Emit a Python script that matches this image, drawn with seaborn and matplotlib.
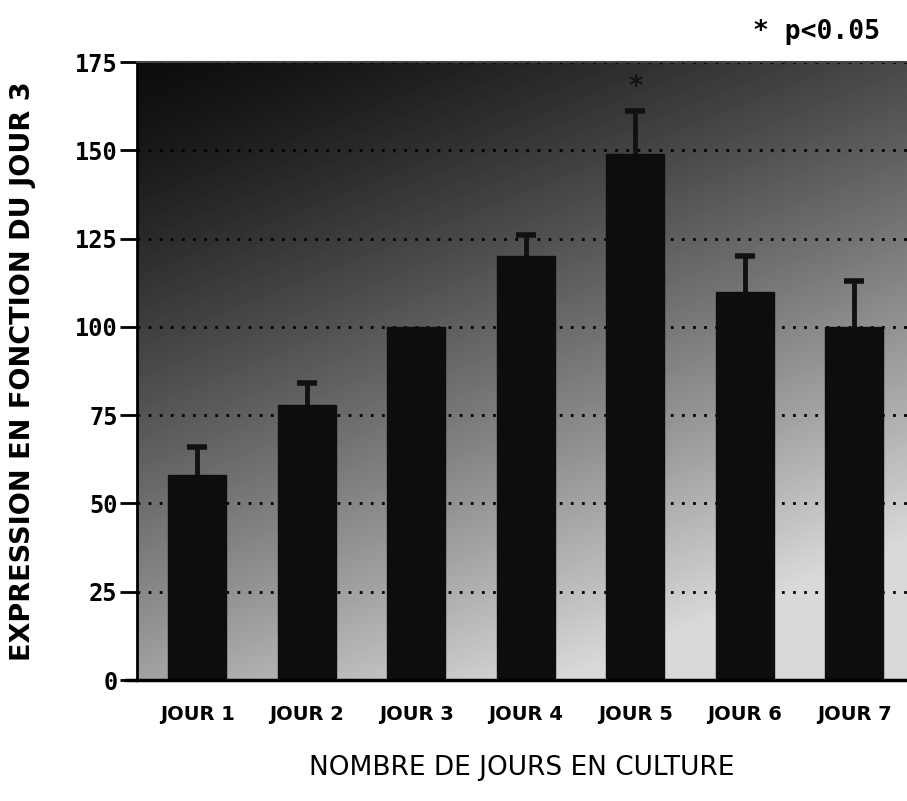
import numpy as np
import pandas as pd
import matplotlib
matplotlib.use("Agg")
import matplotlib.pyplot as plt
import seaborn as sns

categories = ["JOUR 1", "JOUR 2", "JOUR 3", "JOUR 4", "JOUR 5", "JOUR 6", "JOUR 7"]
values = [58, 78, 100, 120, 149, 110, 100]
errors = [8, 6, 0, 6, 12, 10, 13]
yticks = [0, 25, 50, 75, 100, 125, 150, 175]

sns.set_style("white")
plt.rcParams['font.family'] = ['DejaVu Sans']
plt.rcParams['text.color'] = 'black'

fig = plt.figure(figsize=(9.07, 8.01), dpi=100)
ax = fig.add_axes([137/907, 1-680/801, 1-137/907, (680-62)/801])

# gradient background
nx, ny = 200, 200
gx, gy = np.meshgrid(np.linspace(0, 1, nx), np.linspace(1, 0, ny))
t = np.clip((gx*0.45 + (1-gy)*0.9)/1.15, 0, 1)
g = 0.05 + 0.8*t**1.3
ax.imshow(g, cmap='gray', vmin=0, vmax=1, extent=[0, 1, 0, 1], transform=ax.transAxes,
          aspect='auto', zorder=0, interpolation='bilinear')

df = pd.DataFrame({"jour": categories, "val": values})
sns.barplot(data=df, x="jour", y="val", color="#0d0d0d", width=0.53, ax=ax,
            saturation=1, edgecolor="#0d0d0d", zorder=2)
x = np.arange(len(categories))
errs = np.array(errors, dtype=float)
vals = np.array(values, dtype=float)
m = errs > 0
cont = ax.errorbar(x[m], vals[m], yerr=[np.zeros(m.sum()), errs[m]], fmt='none', ecolor='#111111',
                   elinewidth=3.5, capsize=7, capthick=4, zorder=1.5)
caplines = cont.lines[1]
if len(caplines) == 2:
    caplines[0].set_visible(False)

ax.text(4, 168, "*", ha='center', va='center', fontsize=20, fontweight='bold', color='#151515', zorder=4)

ax.set_xlim(-0.55, 6.48)
ax.set_ylim(0, 175)
ax.set_yticks(yticks)
ax.set_yticklabels([str(t) for t in yticks], family='DejaVu Sans Mono', fontweight='bold',
                   fontsize=17, color='black')
ax.set_xticks(x)
ax.set_xticklabels(categories, fontweight='bold', fontsize=14, color='black')
ax.tick_params(axis='y', direction='out', length=12, width=2, color='black', pad=2, left=True)
ax.tick_params(axis='x', length=0, pad=18)
ax.set_axisbelow(True)
ax.yaxis.grid(True, linestyle=(0, (1, 3)), color='black', linewidth=2)
ax.xaxis.grid(False)

ax.spines['right'].set_visible(False)
ax.spines['left'].set_linewidth(2)
ax.spines['left'].set_color('black')
ax.spines['bottom'].set_linewidth(2.5)
ax.spines['bottom'].set_color('black')
ax.spines['top'].set_linewidth(1.5)
ax.spines['top'].set_color('#444444')
ax.plot([-0.015, 0], [0, 0], transform=ax.transAxes, color='black', lw=2.5, clip_on=False)

ax.set_xlabel("NOMBRE DE JOURS EN CULTURE", fontsize=19, labelpad=22, color='black')
ax.set_ylabel("EXPRESSION EN FONCTION DU JOUR 3", fontsize=19.5, fontweight='bold',
              labelpad=28, color='black')

fig.text(880/907, 1-32/801, "* p<0.05", ha='right', va='center', family='DejaVu Sans Mono',
         fontweight='bold', fontsize=19, color='black')

fig.savefig("out.png", dpi=100)
